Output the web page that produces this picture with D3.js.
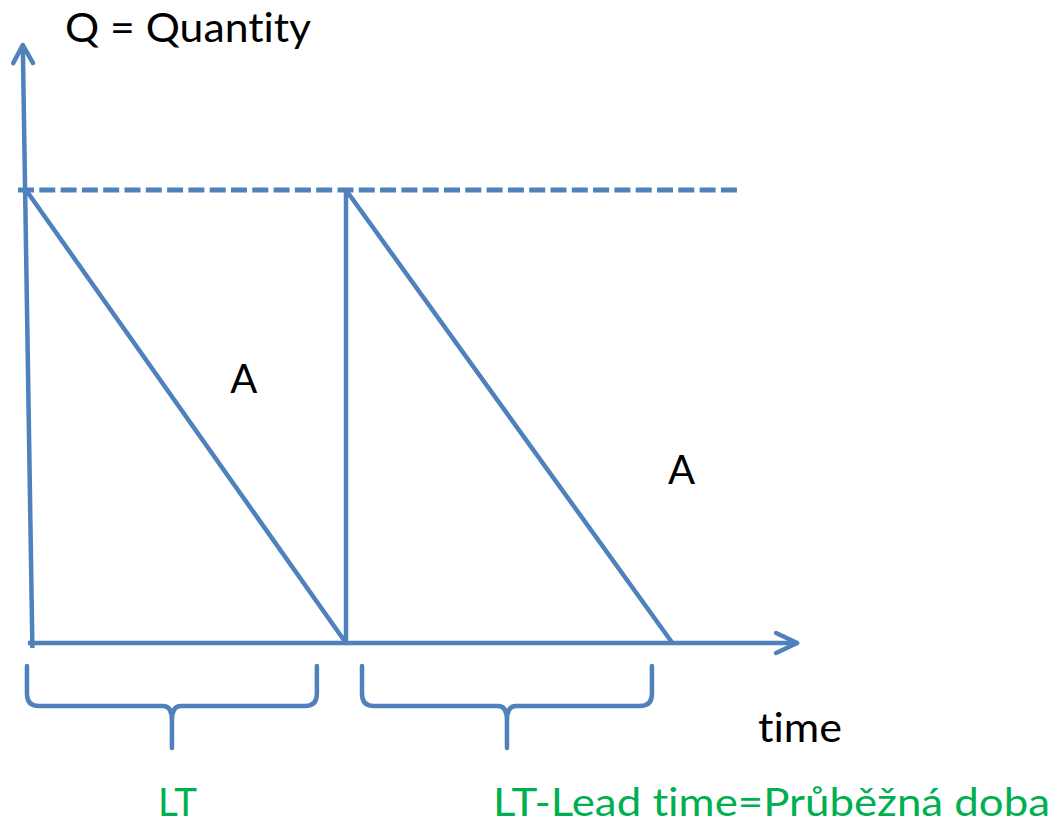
<!DOCTYPE html>
<html>
<meta charset='utf-8'>
<head>
<title>Lead time sawtooth</title>
<script src='https://cdn.jsdelivr.net/npm/d3@7'></script>
<style>
body { margin: 0; background: #fff; }
text { font-family: Lato, 'Open Sans', sans-serif; font-variant-ligatures: none; font-feature-settings: "liga" 0, "dlig" 0; }
</style>
</head>
<body>
<div id='my_dataviz'></div>
<script>

// values (time in order cycles, quantity relative to Q)
var sawTime = [0, 1, 1, 2.02]
var sawQty = [1, 0, 1, 0]
var orderLevel = 1
var dashFrom = -0.025, dashTo = 2.225
var axisTimeEnd = 2.41, axisQtyTop = 1.32
var ltFrom = [0.003, 1.05]
var ltTo = [0.909, 1.956]
var areaLabels = ['A', 'A']
var areaTime = [0.638, 2.006]
var areaQty = [0.552, 0.351]

var width = 1058, height = 825
var blue = '#4f81bd', green = '#00b050'

var svg = d3.select('#my_dataviz')
    .append('svg')
    .attr('width', width)
    .attr('height', height)

var x = d3.scaleLinear().domain([0, 1]).range([26, 346])
var y = d3.scaleLinear().domain([0, 1]).range([643, 190])

var line = d3.line()
    .x(function(d) { return x(d[0]) })
    .y(function(d) { return y(d[1]) })

// axes
svg.append('path')
    .attr('d', line([[0.02, -0.011], [-0.01, axisQtyTop]]))
    .attr('fill', 'none').attr('stroke', blue).attr('stroke-width', 4.5)
svg.append('path')
    .attr('d', line([[-0.04, axisQtyTop - 0.04], [-0.01, axisQtyTop], [0.022, axisQtyTop - 0.04]]))
    .attr('fill', 'none').attr('stroke', blue).attr('stroke-width', 4.5)
    .attr('stroke-linecap', 'round').attr('stroke-linejoin', 'round')
svg.append('path')
    .attr('d', line([[0.006, 0], [axisTimeEnd, 0]]))
    .attr('fill', 'none').attr('stroke', blue).attr('stroke-width', 4.5)
svg.append('path')
    .attr('d', line([[axisTimeEnd - 0.066, 0.022], [axisTimeEnd, 0], [axisTimeEnd - 0.066, -0.022]]))
    .attr('fill', 'none').attr('stroke', blue).attr('stroke-width', 4.5)
    .attr('stroke-linecap', 'round').attr('stroke-linejoin', 'round')

// dashed order level
svg.append('path')
    .attr('d', line([[dashFrom, orderLevel], [dashTo, orderLevel]]))
    .attr('fill', 'none').attr('stroke', blue).attr('stroke-width', 5)
    .attr('stroke-dasharray', '16,5.3')

// sawtooth
svg.append('path')
    .datum(d3.zip(sawTime, sawQty))
    .attr('d', line)
    .attr('fill', 'none').attr('stroke', blue).attr('stroke-width', 4.5)
    .attr('stroke-linejoin', 'round')

// braces under the time axis
var yTop = 666, yBar = 706, yTip = 748
function brace(x0, x1) {
    var xm = (x0 + x1) / 2
    return 'M' + x0 + ',' + yTop + ' L' + x0 + ',' + (yBar - 12) +
        ' Q' + x0 + ',' + yBar + ' ' + (x0 + 12) + ',' + yBar +
        ' L' + (xm - 9) + ',' + yBar +
        ' Q' + xm + ',' + yBar + ' ' + xm + ',' + (yBar + 14) +
        ' L' + xm + ',' + yTip +
        ' M' + xm + ',' + (yBar + 14) +
        ' Q' + xm + ',' + yBar + ' ' + (xm + 9) + ',' + yBar +
        ' L' + (x1 - 12) + ',' + yBar +
        ' Q' + x1 + ',' + yBar + ' ' + x1 + ',' + (yBar - 12) +
        ' L' + x1 + ',' + yTop
}
svg.selectAll('.brace')
    .data(d3.zip(ltFrom, ltTo))
    .enter()
    .append('path')
    .attr('class', 'brace')
    .attr('d', function(d) { return brace(x(d[0]), x(d[1])) })
    .attr('fill', 'none').attr('stroke', blue).attr('stroke-width', 4.5)
    .attr('stroke-linecap', 'round')

// texts
function label(t, px, py, len, size, color) {
    svg.append('text')
        .text(t)
        .attr('x', px).attr('y', py)
        .attr('font-size', size)
        .attr('fill', color)
        .attr('textLength', len)
        .attr('lengthAdjust', 'spacingAndGlyphs')
}
label('Q = Quantity', 65, 42, 246, 41, '#000')
svg.selectAll('.area')
    .data(areaLabels)
    .enter()
    .append('text')
    .attr('class', 'area')
    .text(function(d) { return d })
    .attr('x', function(d, i) { return x(areaTime[i]) })
    .attr('y', function(d, i) { return y(areaQty[i]) })
    .attr('font-size', 40)
    .attr('fill', '#000')
label('time', 758, 742, 84, 40, '#000')
label('LT', 158, 816, 39, 38, green)
label('LT-Lead time=Průběžná doba', 493, 816, 557, 38, green)

</script>
</body>
</html>
